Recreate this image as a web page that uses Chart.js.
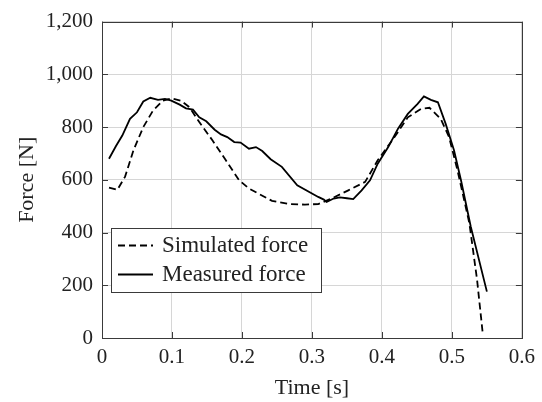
<!DOCTYPE html>
<html>
<head>
<meta charset="utf-8">
<title>Force over time</title>
<script src="https://cdn.jsdelivr.net/npm/chart.js@4.4.1/dist/chart.umd.min.js"></script>
<style>
  html, body { margin: 0; padding: 0; background: #fff; }
  #wrap { width: 542px; height: 402px; }
</style>
</head>
<body>
<div id="wrap"><canvas id="force_chart" width="542" height="402"></canvas></div>
<script>
// values
const simulatedTime  = [0.010, 0.022, 0.033, 0.045, 0.059, 0.073, 0.087, 0.100, 0.113, 0.125, 0.139, 0.158, 0.177, 0.196, 0.210, 0.243, 0.267, 0.290, 0.309, 0.328, 0.352, 0.376, 0.394, 0.418, 0.437, 0.456, 0.468, 0.484, 0.496, 0.508, 0.525, 0.536, 0.544];
const simulatedForce = [570, 562, 612, 712, 800, 863, 900, 909, 900, 875, 819, 749, 674, 598, 567, 520, 508, 506, 508, 529, 560, 592, 674, 762, 837, 869, 873, 831, 762, 636, 435, 220, 19];

const measuredTime  = [0.010, 0.020, 0.029, 0.040, 0.050, 0.059, 0.069, 0.080, 0.090, 0.099, 0.111, 0.120, 0.130, 0.139, 0.149, 0.161, 0.170, 0.179, 0.189, 0.198, 0.210, 0.220, 0.229, 0.241, 0.257, 0.279, 0.309, 0.317, 0.321, 0.331, 0.340, 0.350, 0.359, 0.371, 0.383, 0.394, 0.409, 0.423, 0.437, 0.451, 0.460, 0.470, 0.480, 0.491, 0.503, 0.513, 0.527, 0.550];
const measuredForce = [680, 728, 768, 831, 856, 897, 911, 903, 907, 900, 885, 871, 866, 837, 822, 790, 772, 762, 743, 741, 718, 724, 709, 678, 649, 579, 535, 525, 516, 529, 533, 530, 527, 560, 598, 661, 724, 794, 850, 888, 916, 903, 894, 813, 712, 598, 422, 176];

const xTicks = [0, 0.1, 0.2, 0.3, 0.4, 0.5, 0.6];
const yTicks = [0, 200, 400, 600, 800, 1000, 1200];

const seriesLabels = ['Simulated force', 'Measured force'];

const serif = '"Liberation Serif", "DejaVu Serif", serif';
const textColor = '#222';

function toPoints(xs, ys) {
  return xs.map((x, i) => ({ x: x, y: ys[i] }));
}

// pgfplots style box : frame all round + small ticks pointing inward
const framePlugin = {
  id: 'frame',
  afterDraw(chart) {
    const { ctx, chartArea: a, scales } = chart;
    ctx.save();
    ctx.strokeStyle = '#3a3a3a';
    ctx.lineWidth = 1;
    const len = 6;
    ctx.beginPath();
    xTicks.forEach(v => {
      const px = Math.round(scales.x.getPixelForValue(v)) + 0.5;
      ctx.moveTo(px, a.bottom); ctx.lineTo(px, a.bottom - len);
      ctx.moveTo(px, a.top); ctx.lineTo(px, a.top + len);
    });
    yTicks.forEach(v => {
      const py = Math.round(scales.y.getPixelForValue(v)) + 0.5;
      ctx.moveTo(a.left, py); ctx.lineTo(a.left + len, py);
      ctx.moveTo(a.right, py); ctx.lineTo(a.right - len, py);
    });
    ctx.stroke();
    ctx.strokeRect(Math.round(a.left) + 0.5, Math.round(a.top) + 0.5,
                   Math.round(a.right - a.left), Math.round(a.bottom - a.top));
    ctx.restore();
  }
};

// legend drawn inside the plot, lower left
const boxLegend = {
  id: 'boxLegend',
  afterDraw(chart, args, opts) {
    const ctx = chart.ctx;
    const sets = chart.data.datasets;
    ctx.save();
    ctx.font = opts.font;
    const textX = opts.x + opts.sampleStart + opts.sampleLen + opts.gap;
    let maxW = 0;
    sets.forEach(d => { maxW = Math.max(maxW, ctx.measureText(d.label).width); });
    const w = Math.round(textX - opts.x + maxW + opts.padRight);
    const h = opts.rowH * sets.length + opts.padY * 2;
    ctx.fillStyle = '#fff';
    ctx.fillRect(opts.x, opts.y, w, h);
    ctx.strokeStyle = '#3a3a3a';
    ctx.lineWidth = 1;
    ctx.strokeRect(opts.x + 0.5, opts.y + 0.5, w, h);
    sets.forEach((d, i) => {
      const cy = opts.y + opts.padY + opts.rowH * i + opts.rowH / 2;
      ctx.beginPath();
      ctx.setLineDash(d.borderDash || []);
      ctx.strokeStyle = d.borderColor;
      ctx.lineWidth = d.borderWidth;
      ctx.moveTo(opts.x + opts.sampleStart, cy);
      ctx.lineTo(opts.x + opts.sampleStart + opts.sampleLen, cy);
      ctx.stroke();
      ctx.setLineDash([]);
      ctx.fillStyle = textColor;
      ctx.textBaseline = 'middle';
      ctx.fillText(d.label, textX, cy);
    });
    ctx.restore();
  }
};

const ctx = document.getElementById('force_chart').getContext('2d');
const chart = new Chart(ctx, {
  type: 'line',
  data: {
    datasets: [{
      label: seriesLabels[0],
      data: toPoints(simulatedTime, simulatedForce),
      borderColor: '#000',
      borderWidth: 1.8,
      borderDash: [7, 4],
      pointRadius: 0,
      tension: 0,
      fill: false
    }, {
      label: seriesLabels[1],
      data: toPoints(measuredTime, measuredForce),
      borderColor: '#000',
      borderWidth: 1.8,
      pointRadius: 0,
      tension: 0,
      fill: false
    }]
  },
  options: {
    responsive: false,
    animation: false,
    layout: { padding: { left: 0, right: 17, top: 21, bottom: 0 } },
    plugins: {
      legend: { display: false },
      tooltip: { enabled: false },
      boxLegend: {
        x: 111, y: 228,
        sampleStart: 7, sampleLen: 35, gap: 9,
        padRight: 13, padY: 3, rowH: 29,
        font: '23px ' + serif
      }
    },
    scales: {
      x: {
        type: 'linear',
        min: 0, max: 0.6,
        afterFit: s => { s.height = 64; },
        afterBuildTicks: s => { s.ticks = xTicks.map(v => ({ value: v })); },
        grid: { color: '#d6d6d6', lineWidth: 1, drawTicks: false },
        border: { display: false },
        ticks: {
          padding: 7,
          maxRotation: 0,
          autoSkip: false,
          color: textColor,
          font: { family: serif, size: 21 },
          callback: v => v === 0 ? '0' : v.toFixed(1)
        },
        title: {
          display: true,
          text: 'Time [s]',
          color: textColor,
          font: { family: serif, size: 22 },
          padding: { top: 0, bottom: 1 }
        }
      },
      y: {
        type: 'linear',
        min: 0, max: 1200,
        afterFit: s => { s.width = 102; },
        afterBuildTicks: s => { s.ticks = yTicks.map(v => ({ value: v })); },
        grid: { color: '#d6d6d6', lineWidth: 1, drawTicks: false },
        border: { display: false },
        ticks: {
          padding: 9,
          color: textColor,
          font: { family: serif, size: 21 },
          callback: v => v.toLocaleString('en-US')
        },
        title: {
          display: true,
          text: 'Force [N]',
          color: textColor,
          font: { family: serif, size: 22 },
          padding: { top: 14, bottom: 0 }
        }
      }
    }
  },
  plugins: [framePlugin, boxLegend]
});
</script>
</body>
</html>
